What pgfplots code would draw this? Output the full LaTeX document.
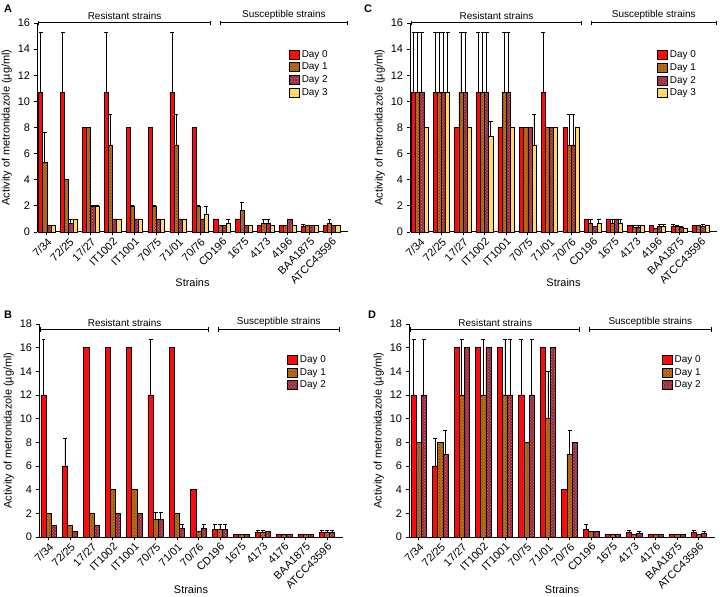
\documentclass[border=0pt]{standalone}
\usepackage{fontspec}
\setmainfont{Liberation Sans}
\usepackage{pgfplots}
\pgfplotsset{compat=1.18}
\usepackage{pgfplotstable}
\usetikzlibrary{patterns,arrows.meta}

\definecolor{d0}{HTML}{FF0A0A}
\definecolor{d1}{HTML}{C07018}
\definecolor{d1p}{HTML}{5A3005}
\definecolor{d2}{HTML}{962838}
\definecolor{d2p}{HTML}{E8909E}
\definecolor{d3}{HTML}{FFD966}

% x: strain index; yK: mean of day K; eK: upper error of day K
\pgfplotstableread{
x y0 e0 y1 e1 y2 e2 y3 e3
0 10.67 4.63 5.33 2.33 0.5 0 0.5 0
1 10.67 4.63 4 0 0.67 0.3 1 0
2 8 0 8 0 2 0 2 0
3 10.67 4.63 6.67 2.33 1 0 1 0
4 8 0 2 0 1 0 1 0
5 8 0 2 0 1 0 1 0
6 10.67 4.63 6.67 2.33 1 0 1 0
7 8 0 2 0 1 0 1.33 0.6
8 1 0 0.5 0 0.5 0 0.67 0.3
9 1 0 1.67 0.6 0.5 0 0.5 0
10 0.5 0 0.67 0.3 0.67 0.3 0.5 0
11 0.5 0 0.5 0 1 0 0.5 0
12 0.42 0.15 0.5 0 0.5 0 0.5 0
13 0.5 0 0.67 0.3 0.5 0 0.5 0
}\tabA

\pgfplotstableread{
x y0 e0 y1 e1 y2 e2 y3 e3
0 10.67 4.63 10.67 4.63 10.67 4.63 8 0
1 10.67 4.63 10.67 4.63 10.67 4.63 10.67 4.63
2 8 0 10.67 4.63 10.67 4.63 8 0
3 10.67 4.63 10.67 4.63 10.67 4.63 7.33 1.17
4 8 0 10.67 4.63 10.67 4.63 8 0
5 8 0 8 0 8 0 6.67 2.33
6 10.67 4.63 8 0 8 0 8 0
7 8 0 6.67 2.33 6.67 2.33 8 0
8 1 0 0.67 0.3 0.42 0 0.67 0.3
9 1 0 0.67 0.3 1 0 0.67 0.3
10 0.5 0 0.33 0.17 0.33 0.17 0.5 0
11 0.5 0 0.25 0 0.42 0.15 0.42 0.15
12 0.42 0.15 0.42 0.1 0.33 0.1 0.25 0
13 0.5 0 0.5 0 0.42 0.15 0.5 0
}\tabC

\pgfplotstableread{
x y0 e0 y1 e1 y2 e2
0 12 4.67 2 0 1 0
1 6 2.33 1 0 0.5 0
2 16 0 2 0 1 0
3 16 0 4 0 2 0
4 16 0 4 0 2 0
5 12 4.67 1.5 0.6 1.5 0.6
6 16 0 2 0 0.75 0.3
7 4 0 0.5 0 0.75 0.3
8 0.67 0.4 0.67 0.4 0.67 0.4
9 0.25 0 0.25 0 0.25 0
10 0.42 0.15 0.42 0.15 0.5 0
11 0.25 0 0.25 0 0.25 0
12 0.25 0 0.25 0 0.25 0
13 0.42 0.15 0.42 0.15 0.42 0.15
}\tabB

\pgfplotstableread{
x y0 e0 y1 e1 y2 e2
0 12 4.67 8 0 12 4.67
1 6 2.33 8 0 7 2
2 16 0 12 4.67 16 0
3 16 0 12 4.67 16 0
4 16 0 12 4.67 12 4.67
5 12 4.67 8 0 12 4.67
6 16 0 10 4 16 0
7 4 0 7 2 8 0
8 0.67 0.4 0.5 0 0.5 0
9 0.25 0 0.25 0 0.25 0
10 0.42 0.15 0.25 0 0.33 0.15
11 0.25 0 0.25 0 0.25 0
12 0.25 0 0.25 0 0.25 0
13 0.42 0.15 0.25 0 0.33 0.15
}\tabD

\tikzset{
  brk/.style={{Bar[width=5pt]}-{Bar[width=5pt]}, line width=1pt, black},
  brktext/.style={midway, above=0pt, font=\fontsize{10}{12}\selectfont},
}

\pgfplotsset{
  panel/.style={
    scale only axis,
    axis lines=left,
    axis line style={-, line width=1pt, black},
    ybar=0pt,
    ymin=0,
    enlargelimits=false,
    xmin=-0.45, xmax=13.75,
    xtick={0,...,13},
    tick align=outside,
    major tick length=3.5pt,
    tick style={black, line width=0.8pt},
    x tick label style={rotate=45, anchor=north east, inner sep=1pt},
    /pgf/number format/assume math mode=true,
    tick label style={font=\fontsize{11}{13}\selectfont},
    label style={font=\fontsize{11}{13}\selectfont},
    xlabel={Strains},
    ylabel={Activity of metronidazole (µg/ml)},
    ylabel style={yshift=-1pt},
    clip=false,
    legend style={draw=none, fill=none, font=\fontsize{10}{12}\selectfont,
      anchor=north west, row sep=0.3pt, inner sep=0pt,
      /tikz/every even column/.append style={column sep=2pt}},
    legend cell align=left,
    legend image code/.code={\draw[#1, draw=black, line width=0.7pt] (0pt,-4.5pt) rectangle (10pt,4.5pt);},
    error bars/y dir=plus,
    error bars/y explicit,
    error bars/error bar style={black, line width=0.8pt},
    error bars/error mark options={black, rotate=90, mark size=2pt, line width=0.8pt},
  },
  b0/.style={fill=d0, draw=black, line width=0.6pt},
  b1/.style={fill=d1, draw=black, line width=0.6pt, postaction={pattern=crosshatch dots, pattern color=d1p}},
  b2/.style={fill=d2, draw=black, line width=0.6pt, postaction={pattern=crosshatch dots, pattern color=d2p}},
  b3/.style={fill=d3, draw=black, line width=0.6pt},
}

\begin{document}
\begin{tikzpicture}
\useasboundingbox (0,0) rectangle (720bp,597bp);

% Panel A
\begin{axis}[panel, at={(37bp,365bp)}, anchor=south west, width=311bp, height=209bp,
  ymax=16, ytick={0,2,...,16}, bar width=0.19,
  xlabel style={at={(axis description cs:0.5,0)}, anchor=center, yshift=-51bp},
  xticklabels={7/34,72/25,17/27,IT1002,IT1001,70/75,71/01,70/76,CD196,1675,4173,4196,BAA1875,ATCC43596},
  legend style={at={(0.81,0.88)}}]
\addplot[b0] table[x=x, y=y0, y error=e0] {\tabA};
\addplot[b1] table[x=x, y=y1, y error=e1] {\tabA};
\addplot[b2] table[x=x, y=y2, y error=e2] {\tabA};
\addplot[b3] table[x=x, y=y3, y error=e3] {\tabA};
\legend{Day 0, Day 1, Day 2, Day 3}
\draw[brk] (axis cs:-0.4,16) -- (axis cs:7.5,16) node[brktext] {Resistant strains};
\draw[brk] (axis cs:7.9,16) -- (axis cs:13.75,16) node[brktext] {Susceptible strains};
\end{axis}

% Panel C
\begin{axis}[panel, at={(410bp,365bp)}, anchor=south west, width=307bp, height=209bp,
  ymax=16, ytick={0,2,...,16}, bar width=0.19,
  xlabel style={at={(axis description cs:0.5,0)}, anchor=center, yshift=-51bp},
  xticklabels={7/34,72/25,17/27,IT1002,IT1001,70/75,71/01,70/76,CD196,1675,4173,4196,BAA1875,ATCC43596},
  legend style={at={(0.805,0.877)}}]
\addplot[b0] table[x=x, y=y0, y error=e0] {\tabC};
\addplot[b1] table[x=x, y=y1, y error=e1] {\tabC};
\addplot[b2] table[x=x, y=y2, y error=e2] {\tabC};
\addplot[b3] table[x=x, y=y3, y error=e3] {\tabC};
\legend{Day 0, Day 1, Day 2, Day 3}
\draw[brk] (axis cs:-0.4,16) -- (axis cs:7.5,16) node[brktext] {Resistant strains};
\draw[brk] (axis cs:7.9,16) -- (axis cs:13.75,16) node[brktext] {Susceptible strains};
\end{axis}

% Panel B
\begin{axis}[panel, at={(39bp,60bp)}, anchor=south west, width=304bp, height=213bp,
  ymax=18, ytick={0,2,...,18}, bar width=0.24,
  xlabel style={at={(axis description cs:0.5,0)}, anchor=center, yshift=-53bp},
  xticklabels={7/34,72/25,17/27,IT1002,IT1001,70/75,71/01,70/76,CD196,1675,4173,4176,BAA1875,ATCC43596},
  legend style={at={(0.816,0.862)}}]
\addplot[b0] table[x=x, y=y0, y error=e0] {\tabB};
\addplot[b1] table[x=x, y=y1, y error=e1] {\tabB};
\addplot[b2] table[x=x, y=y2, y error=e2] {\tabB};
\legend{Day 0, Day 1, Day 2}
\draw[brk] (axis cs:-0.4,17.5) -- (axis cs:7.5,17.5) node[brktext] {Resistant strains};
\draw[brk] (axis cs:7.9,17.5) -- (axis cs:13.6,17.5) node[brktext] {Susceptible strains};
\end{axis}

% Panel D
\begin{axis}[panel, at={(409bp,60bp)}, anchor=south west, width=306bp, height=213bp,
  ymax=18, ytick={0,2,...,18}, bar width=0.24,
  xlabel style={at={(axis description cs:0.5,0)}, anchor=center, yshift=-53bp},
  xticklabels={7/34,72/25,17/27,IT1002,IT1001,70/75,71/01,70/76,CD196,1675,4173,4176,BAA1875,ATCC43596},
  legend style={at={(0.826,0.862)}}]
\addplot[b0] table[x=x, y=y0, y error=e0] {\tabD};
\addplot[b1] table[x=x, y=y1, y error=e1] {\tabD};
\addplot[b2] table[x=x, y=y2, y error=e2] {\tabD};
\legend{Day 0, Day 1, Day 2}
\draw[brk] (axis cs:-0.4,17.5) -- (axis cs:7.5,17.5) node[brktext] {Resistant strains};
\draw[brk] (axis cs:7.9,17.5) -- (axis cs:13.6,17.5) node[brktext] {Susceptible strains};
\end{axis}

\node[font=\bfseries\fontsize{11}{12}\selectfont] at (8bp,588bp) {A};
\node[font=\bfseries\fontsize{11}{12}\selectfont] at (368bp,588bp) {C};
\node[font=\bfseries\fontsize{11}{12}\selectfont] at (8bp,282bp) {B};
\node[font=\bfseries\fontsize{11}{12}\selectfont] at (372bp,282bp) {D};
\end{tikzpicture}
\end{document}
